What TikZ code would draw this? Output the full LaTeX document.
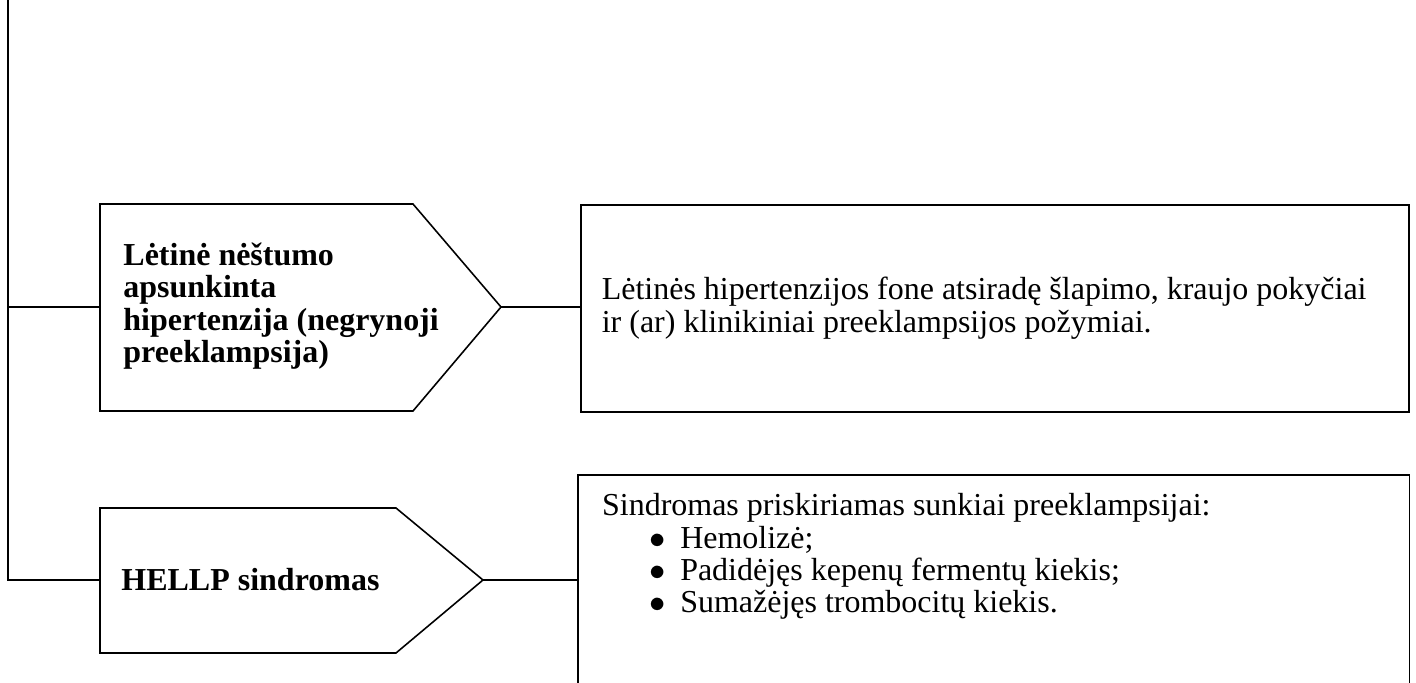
\documentclass[tikz,border=0pt]{standalone}
\usepackage{fontspec}
\setmainfont{Liberation Serif}
\usetikzlibrary{positioning}

\newcommand{\bulletline}[1]{\hspace*{21pt}\makebox[13.7pt][l]{$\bullet$}#1}

\tikzset{
  kindshape/.style={draw, line width=0.7pt, fill=white},
  link/.style={draw, line width=0.6pt},
  kindtext/.style={font=\fontsize{14.2}{14.4}\selectfont\bfseries, align=flush left,
    text width=150pt, inner sep=0pt},
  infobox/.style={draw, line width=0.7pt, minimum width=367.6pt, minimum height=92pt},
  infotext/.style={font=\fontsize{14.2}{14.4}\selectfont, align=flush left,
    text width=348pt, inner xsep=9.5pt, inner ysep=0pt},
}

\begin{document}
\begin{tikzpicture}[x=0.444pt, y=-0.444pt]
    \useasboundingbox (0,0) rectangle (1416,683);

    % Trunk
    \coordinate (trunk) at (8,0);

    % Pentagon shapes
    \draw[kindshape] (100,204) -- (413,204) -- (501,307) coordinate (tipA)
        -- (413,411) -- (100,411) -- (100,307) coordinate (inA) -- cycle;
    \node[kindtext, anchor=west] (kindA) at (123,306)
        {Lėtinė nėštumo\\apsunkinta\\hipertenzija (negrynoji\\preeklampsija)};

    \draw[kindshape] (100,508) -- (396,508) -- (483,580) coordinate (tipB)
        -- (396,653) -- (100,653) -- (100,580) coordinate (inB) -- cycle;
    \node[kindtext, anchor=west] (kindB) at (121,580) {HELLP sindromas};

    % Right boxes
    \node[infobox, anchor=north west] (infoA) at (580,204) {};
    \node[infotext, anchor=west] (textA) at (infoA.west)
        {Lėtinės hipertenzijos fone atsiradę šlapimo, kraujo pokyčiai\\ir (ar) klinikiniai preeklampsijos požymiai.};

    \node[infobox, draw=none, anchor=north west, minimum width=368.5pt, minimum height=92.4pt] (infoB) at (578,475) {};
    \draw[link, line width=0.7pt] (infoB.south west) -- (infoB.north west) -- (infoB.north east) -- (infoB.south east);
    \node[infotext, anchor=north west, inner xsep=10.5pt, inner ysep=8pt] (listB) at (infoB.north west)
        {Sindromas priskiriamas sunkiai preeklampsijai:\\
         \bulletline{Hemolizė;}\\
         \bulletline{Padidėjęs kepenų fermentų kiekis;}\\
         \bulletline{Sumažėjęs trombocitų kiekis.}};

    % Connectors
    \draw[link] (trunk) |- (inB);
    \draw[link] (trunk |- inA) -- (inA);
    \draw[link] (tipA) -- (tipA -| infoA.west);
    \draw[link] (tipB) -- (tipB -| infoB.west);
\end{tikzpicture}
\end{document}
